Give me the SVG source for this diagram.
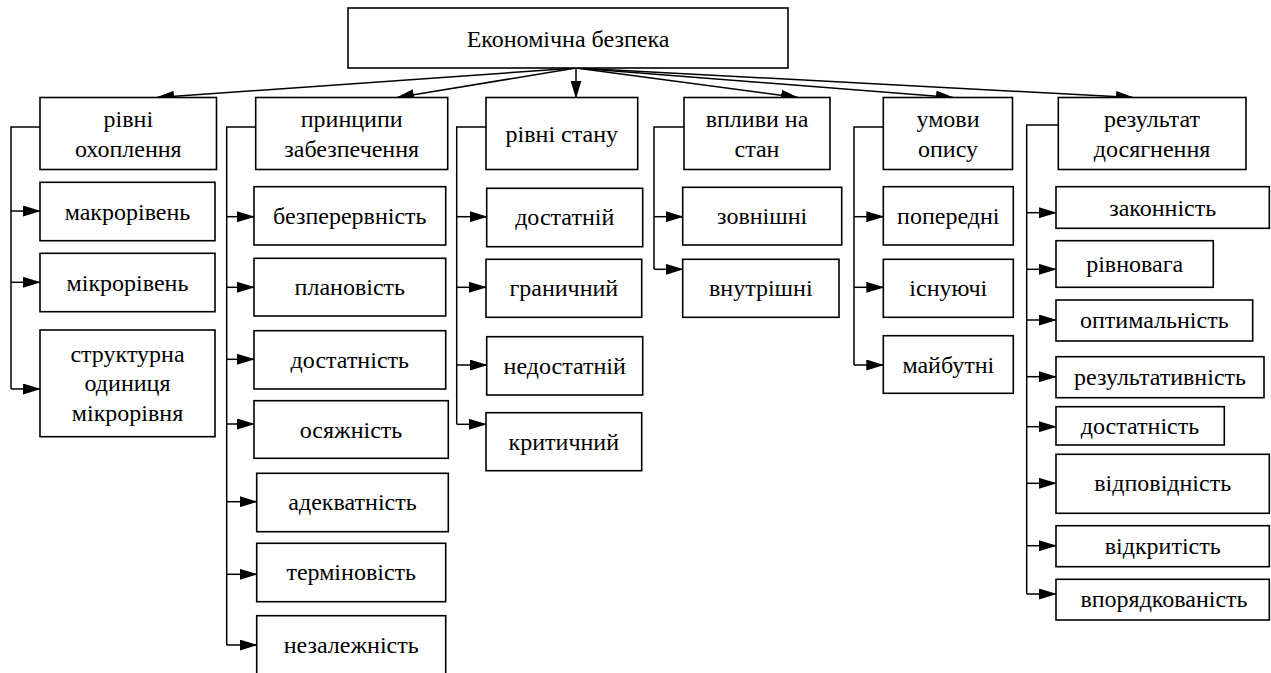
<svg xmlns="http://www.w3.org/2000/svg" width="1271" height="673" viewBox="0 0 1271 673">
<defs>
<style>
rect{fill:#fff;stroke:#000;stroke-width:1.6}
text{font-family:'Liberation Serif','DejaVu Serif',serif;font-size:24px;fill:#000;text-anchor:middle}
.c path,.c line{fill:none;stroke:#000;stroke-width:1.5}
.a{marker-end:url(#ah)}
</style>
<marker id="ah" markerUnits="userSpaceOnUse" markerWidth="18" markerHeight="11" refX="17" refY="5.5" orient="auto" viewBox="0 0 18 11">
<path d="M0,0 L18,5.5 L0,11 z" fill="#000"/>
</marker>
</defs>
<g class="c" id="connectors">
<line class="a" x1="576" y1="68" x2="157" y2="97.5"/>
<line class="a" x1="576" y1="68" x2="397" y2="97.5"/>
<line class="a" x1="576" y1="68" x2="576" y2="97.5"/>
<line class="a" x1="576" y1="68" x2="798" y2="97.5"/>
<line class="a" x1="576" y1="68" x2="953" y2="97.5"/>
<line class="a" x1="576" y1="68" x2="1133" y2="97.5"/>
<path d="M40,127 H11 V389"/>
<path class="a" d="M11,211 H40"/>
<path class="a" d="M11,282.3 H40"/>
<path class="a" d="M11,389 H40"/>
<path d="M255.7,127 H226.7 V645"/>
<path class="a" d="M226.7,216.7 H254"/>
<path class="a" d="M226.7,287.3 H254"/>
<path class="a" d="M226.7,359.3 H254"/>
<path class="a" d="M226.7,424 H254"/>
<path class="a" d="M226.7,501.7 H256.7"/>
<path class="a" d="M226.7,574.3 H256.7"/>
<path class="a" d="M226.7,645 H256.7"/>
<path d="M486,127 H456.7 V424.3"/>
<path class="a" d="M456.7,216.7 H486.7"/>
<path class="a" d="M456.7,287.3 H486"/>
<path class="a" d="M456.7,365 H486.7"/>
<path class="a" d="M456.7,424.3 H486"/>
<path d="M684,127 H654 V269.3"/>
<path class="a" d="M654,216.7 H682.7"/>
<path class="a" d="M654,269.3 H682.7"/>
<path d="M883.3,127 H854 V365"/>
<path class="a" d="M854,216.7 H883.3"/>
<path class="a" d="M854,287.3 H883.3"/>
<path class="a" d="M854,365 H883.3"/>
<path d="M1058.3,125 H1026.7 V594"/>
<path class="a" d="M1026.7,212.7 H1056"/>
<path class="a" d="M1026.7,269.3 H1056"/>
<path class="a" d="M1026.7,320 H1056"/>
<path class="a" d="M1026.7,376.7 H1056"/>
<path class="a" d="M1026.7,426.7 H1056"/>
<path class="a" d="M1026.7,483.3 H1056"/>
<path class="a" d="M1026.7,545.7 H1056"/>
<path class="a" d="M1026.7,594 H1056"/>
</g>
<g id="root"><rect x="348" y="8" width="440" height="60"/><text x="568" y="46.5">Економічна безпека</text></g>
<g id="h1"><rect x="40" y="97.5" width="176.5" height="72"/><text x="128.3" y="127">рівні</text><text x="128.3" y="156.5">охоплення</text></g>
<g id="h2"><rect x="255.7" y="97.5" width="192" height="72"/><text x="351.7" y="127">принципи</text><text x="351.7" y="156.5">забезпечення</text></g>
<g id="h3"><rect x="486" y="97.5" width="151.7" height="72"/><text x="561.8" y="141.5">рівні стану</text></g>
<g id="h4"><rect x="684" y="97.5" width="146" height="72"/><text x="757" y="127">впливи на</text><text x="757" y="156.5">стан</text></g>
<g id="h5"><rect x="883.3" y="97.5" width="129.2" height="72"/><text x="948" y="127">умови</text><text x="948" y="156.5">опису</text></g>
<g id="h6"><rect x="1058.3" y="97.5" width="187.7" height="72"/><text x="1152" y="127">результат</text><text x="1152" y="156.5">досягнення</text></g>
<g id="c1a"><rect x="40" y="182.3" width="175" height="58.4"/><text x="127.5" y="219.5">макрорівень</text></g>
<g id="c1b"><rect x="40" y="253.3" width="175" height="58.4"/><text x="127.5" y="290.5">мікрорівень</text></g>
<g id="c1c"><rect x="40" y="330" width="175" height="106.7"/><text x="127.5" y="361.5">структурна</text><text x="127.5" y="391">одиниця</text><text x="127.5" y="420.5">мікрорівня</text></g>
<g id="c2a"><rect x="254" y="186.7" width="191.7" height="58.3"/><text x="349.8" y="223.5">безперервність</text></g>
<g id="c2b"><rect x="254" y="258.3" width="191.7" height="57.7"/><text x="349.8" y="295">плановість</text></g>
<g id="c2c"><rect x="254" y="330.7" width="191.7" height="58.3"/><text x="349.8" y="367.5">достатність</text></g>
<g id="c2d"><rect x="254" y="400.7" width="194.3" height="57.6"/><text x="351" y="437.5">осяжність</text></g>
<g id="c2e"><rect x="256.7" y="473.3" width="191.6" height="58.4"/><text x="352.5" y="510">адекватність</text></g>
<g id="c2f"><rect x="256.7" y="543.3" width="189" height="58.4"/><text x="351.2" y="580">терміновість</text></g>
<g id="c2g"><rect x="256.7" y="615.7" width="189" height="80"/><text x="351.2" y="653">незалежність</text></g>
<g id="c3a"><rect x="486.7" y="188.3" width="156" height="58.4"/><text x="564.7" y="225">достатній</text></g>
<g id="c3b"><rect x="486" y="259.3" width="155.7" height="58"/><text x="563.8" y="296">граничний</text></g>
<g id="c3c"><rect x="486.7" y="336.7" width="156" height="58.3"/><text x="564.7" y="373.5">недостатній</text></g>
<g id="c3d"><rect x="486" y="412.7" width="155.7" height="58"/><text x="563.8" y="449.5">критичний</text></g>
<g id="c4a"><rect x="682.7" y="187.3" width="159" height="57.7"/><text x="762.2" y="224">зовнішні</text></g>
<g id="c4b"><rect x="682.7" y="259.3" width="156.3" height="58"/><text x="760.8" y="296">внутрішні</text></g>
<g id="c5a"><rect x="883.3" y="186.7" width="130" height="58.3"/><text x="948.3" y="224">попередні</text></g>
<g id="c5b"><rect x="883.3" y="259.3" width="130" height="58"/><text x="948.3" y="296">існуючі</text></g>
<g id="c5c"><rect x="883.3" y="335.7" width="130" height="57.6"/><text x="948.3" y="372.5">майбутні</text></g>
<g id="c6a"><rect x="1056" y="186.7" width="213.3" height="41.6"/><text x="1162.7" y="215.5">законність</text></g>
<g id="c6b"><rect x="1056" y="240.7" width="157.3" height="46.6"/><text x="1134.7" y="272">рівновага</text></g>
<g id="c6c"><rect x="1056" y="300" width="196.7" height="41"/><text x="1154.3" y="328">оптимальність</text></g>
<g id="c6d"><rect x="1056" y="356.7" width="208" height="41"/><text x="1160" y="385">результативність</text></g>
<g id="c6e"><rect x="1056" y="406.7" width="168.3" height="38.3"/><text x="1140" y="433.5">достатність</text></g>
<g id="c6f"><rect x="1056" y="454.3" width="213.3" height="59"/><text x="1162.7" y="491">відповідність</text></g>
<g id="c6g"><rect x="1056" y="525.7" width="213.3" height="41"/><text x="1162.7" y="553.5">відкритість</text></g>
<g id="c6h"><rect x="1056" y="579.3" width="213.3" height="40.7"/><text x="1164" y="607">впорядкованість</text></g>
</svg>
